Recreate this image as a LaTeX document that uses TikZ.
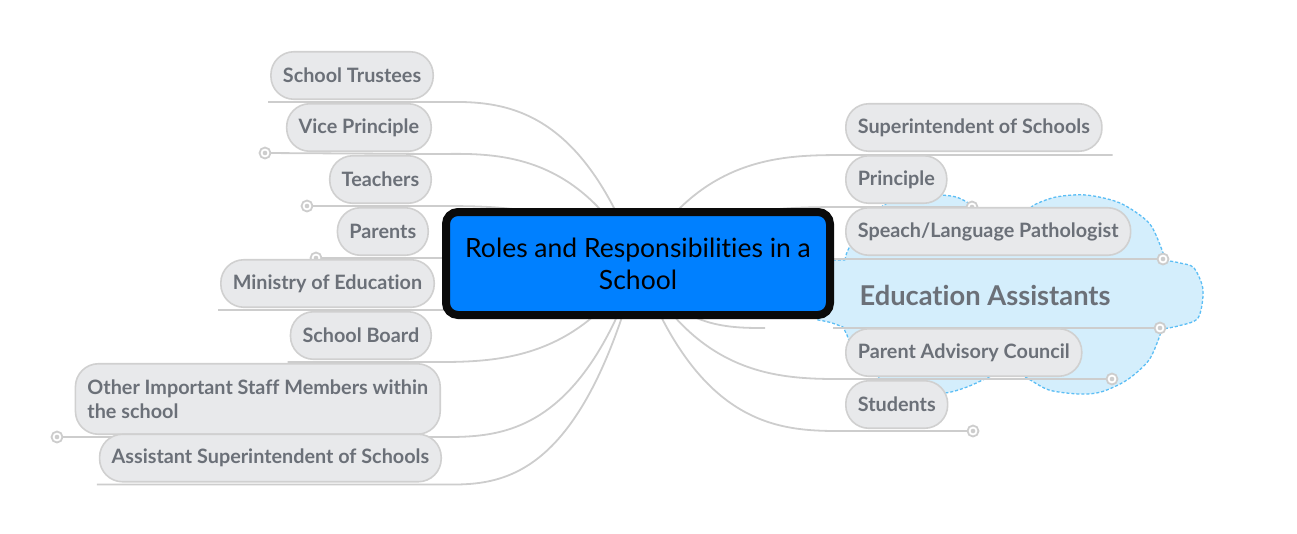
\documentclass[tikz,border=0pt]{standalone}
\usepackage{fontspec}
\setmainfont{Lato}[Ligatures=NoCommon]
\usepackage{xcolor}
\usetikzlibrary{positioning, backgrounds}

\definecolor{rootblue}{HTML}{0080FF}
\definecolor{pillfill}{HTML}{E8E9EB}
\definecolor{pilledge}{HTML}{D0D0D0}
\definecolor{labelgray}{HTML}{6B7078}
\definecolor{branchgray}{HTML}{CDCDCD}
\definecolor{cloudfill}{HTML}{D4EEFC}
\definecolor{cloudedge}{HTML}{5CBEF5}

\begin{document}
\begin{tikzpicture}[
        x=1pt, y=-1pt,
        topic/.style={rectangle, draw=pilledge, line width=1.6pt, fill=pillfill, rounded corners=23pt, text=labelgray, font=\bfseries\fontsize{19.8}{24}\selectfont, minimum height=47.5pt, inner xsep=12pt, align=left},
        rootbox/.style={rectangle, draw=black!96, line width=8pt, fill=rootblue, rounded corners=12pt, minimum width=384pt, minimum height=103pt, align=center, font=\fontsize{26.5}{32}\selectfont},
        cloudlabel/.style={text=labelgray, font=\bfseries\fontsize{27.3}{30}\selectfont},
        branch/.style={draw=branchgray, line width=1.8pt},
        fold/.style={circle, draw=branchgray, line width=1.8pt, fill=white, minimum size=11pt, inner sep=0pt, path picture={\fill[branchgray] (path picture bounding box.center) circle (2.3pt);}},
        cloudbox/.style={draw=cloudedge, fill=cloudfill, line width=1.3pt, dash pattern=on 3pt off 2pt}
    ]
    \useasboundingbox (0,0) rectangle (1297,533);

    % left side topics
    \node (trustees) [topic, anchor=east] at (434,75.5) {School Trustees};
    \node (vice) [topic, anchor=east] at (432,127.5) {Vice Principle};
    \node (teachers) [topic, anchor=east] at (432,179.5) {Teachers};
    \node (parents) [topic, anchor=east] at (429,231.5) {Parents};
    \node (ministry) [topic, anchor=east] at (435,283.5) {Ministry of Education};
    \node (board) [topic, anchor=east] at (432,335.5) {School Board};
    \node (other) [topic, anchor=east, minimum height=70.5pt] at (441,399) {Other Important Staff Members within\\the school};
    \node (assistant) [topic, anchor=east] at (442,458) {Assistant Superintendent of Schools};

    % right side topics
    \node (super) [topic, anchor=west] at (845,127.5) {Superintendent of Schools};
    \node (principle) [topic, anchor=west] at (845,179.5) {Principle};
    \node (speach) [topic, anchor=west] at (845,231.5) {Speach/Language Pathologist};
    \node (assist) [cloudlabel] at (985,295) {Education Assistants};
    \node (council) [topic, anchor=west] at (845,352.5) {Parent Advisory Council};
    \node (students) [topic, anchor=west] at (845,404.5) {Students};

    % central topic
    \node (root) [rootbox] at (638,263.5) {Roles and Responsibilities in a\\School};

    \coordinate (vicedot) at (265,153);
    \coordinate (teachersdot) at (307,206);
    \coordinate (parentsdot) at (316,258);
    \coordinate (otherdot) at (57,437);
    \coordinate (principledot) at (972,207);
    \coordinate (speachdot) at (1163,259);
    \coordinate (assistedge) at (765,328);
    \coordinate (assiststart) at (833,328);
    \coordinate (assistdot) at (1160,328);
    \coordinate (councildot) at (1112,379);
    \coordinate (studentsdot) at (973,431);

    \begin{scope}[on background layer]
    % boundary round the Education Assistants
    \draw[cloudbox] plot[smooth] coordinates {(845,260) (848,250) (863,223) (893,200) (930,195) (956,197) (975,207) (985,214)}
        -- plot[smooth] coordinates {(1028,212) (1034,205) (1056,197) (1086,195) (1120,203) (1149,223) (1162,250) (1164,258)}
        -- plot[smooth] coordinates {(1164,260) (1180,263) (1194,268) (1203,290) (1198,318) (1178,326) (1162,329)}
        -- plot[smooth] coordinates {(1160,335) (1149,360) (1127,380) (1101,392) (1079,394) (1049,390) (1027,378) (1015,372)}
        -- plot[smooth] coordinates {(1000,372) (989,377) (967,387) (945,393) (915,392) (882,380) (858,360) (847,335)}
        -- (843,327) .. controls (830,322) .. (818,320) .. controls (800,300) .. (833,260) -- cycle;

    % branches to the left
    \draw[branch] (root.center) .. controls (579,101) and (499,101) .. ([shift={(6,2)}]trustees.south east) -- ([shift={(-2,2)}]trustees.south west);
    \draw[branch] (root.center) .. controls (579,153) and (499,153) .. ([shift={(8,2)}]vice.south east) -- (vicedot);
    \draw[branch] (root.center) .. controls (579,206) and (499,206) .. ([shift={(8,2)}]teachers.south east) -- (teachersdot);
    \draw[branch] (root.center) .. controls (579,258) and (499,258) .. ([shift={(11,2)}]parents.south east) -- (parentsdot);
    \draw[branch] (root.center) .. controls (579,310) and (499,310) .. ([shift={(6,2)}]ministry.south east) -- ([shift={(-2,2)}]ministry.south west);
    \draw[branch] (root.center) .. controls (576,362) and (494,362) .. ([shift={(0,2)}]board.south east) -- ([shift={(-2,2)}]board.south west);
    \draw[branch] (root.center) .. controls (579,437) and (499,437) .. ([shift={(0,2)}]other.south east) -- (otherdot);
    \draw[branch] (root.center) .. controls (579,485) and (499,485) .. ([shift={(0,2)}]assistant.south east) -- ([shift={(-2,2)}]assistant.south west);

    % branches to the right
    \draw[branch] (root.center) .. controls (700,155) and (783,155) .. ([shift={(0,3)}]super.south west) -- ([shift={(10,3)}]super.south east);
    \draw[branch] (root.center) .. controls (700,207) and (783,207) .. ([shift={(0,3)}]principle.south west) -- (principledot);
    \draw[branch] (root.center) .. controls (700,259) and (783,259) .. ([shift={(0,3)}]speach.south west) -- (speachdot);
    \draw[branch] (root.center) .. controls (676,328) and (727,328) .. (assistedge);
    \draw[branch] (assiststart) -- (assistdot);
    \draw[branch] (root.center) .. controls (700,379) and (783,379) .. ([shift={(0,2)}]council.south west) -- (councildot);
    \draw[branch] (root.center) .. controls (700,431) and (783,431) .. ([shift={(0,2)}]students.south west) -- (studentsdot);

    % collapsed markers
    \node (vicefold) [fold] at (vicedot) {};
    \node (teachersfold) [fold] at (teachersdot) {};
    \node (parentsfold) [fold] at (parentsdot) {};
    \node (otherfold) [fold] at (otherdot) {};
    \node (principlefold) [fold] at (principledot) {};
    \node (speachfold) [fold] at (speachdot) {};
    \node (assistfold) [fold] at (assistdot) {};
    \node (councilfold) [fold] at (councildot) {};
    \node (studentsfold) [fold] at (studentsdot) {};
    \end{scope}
\end{tikzpicture}
\end{document}
